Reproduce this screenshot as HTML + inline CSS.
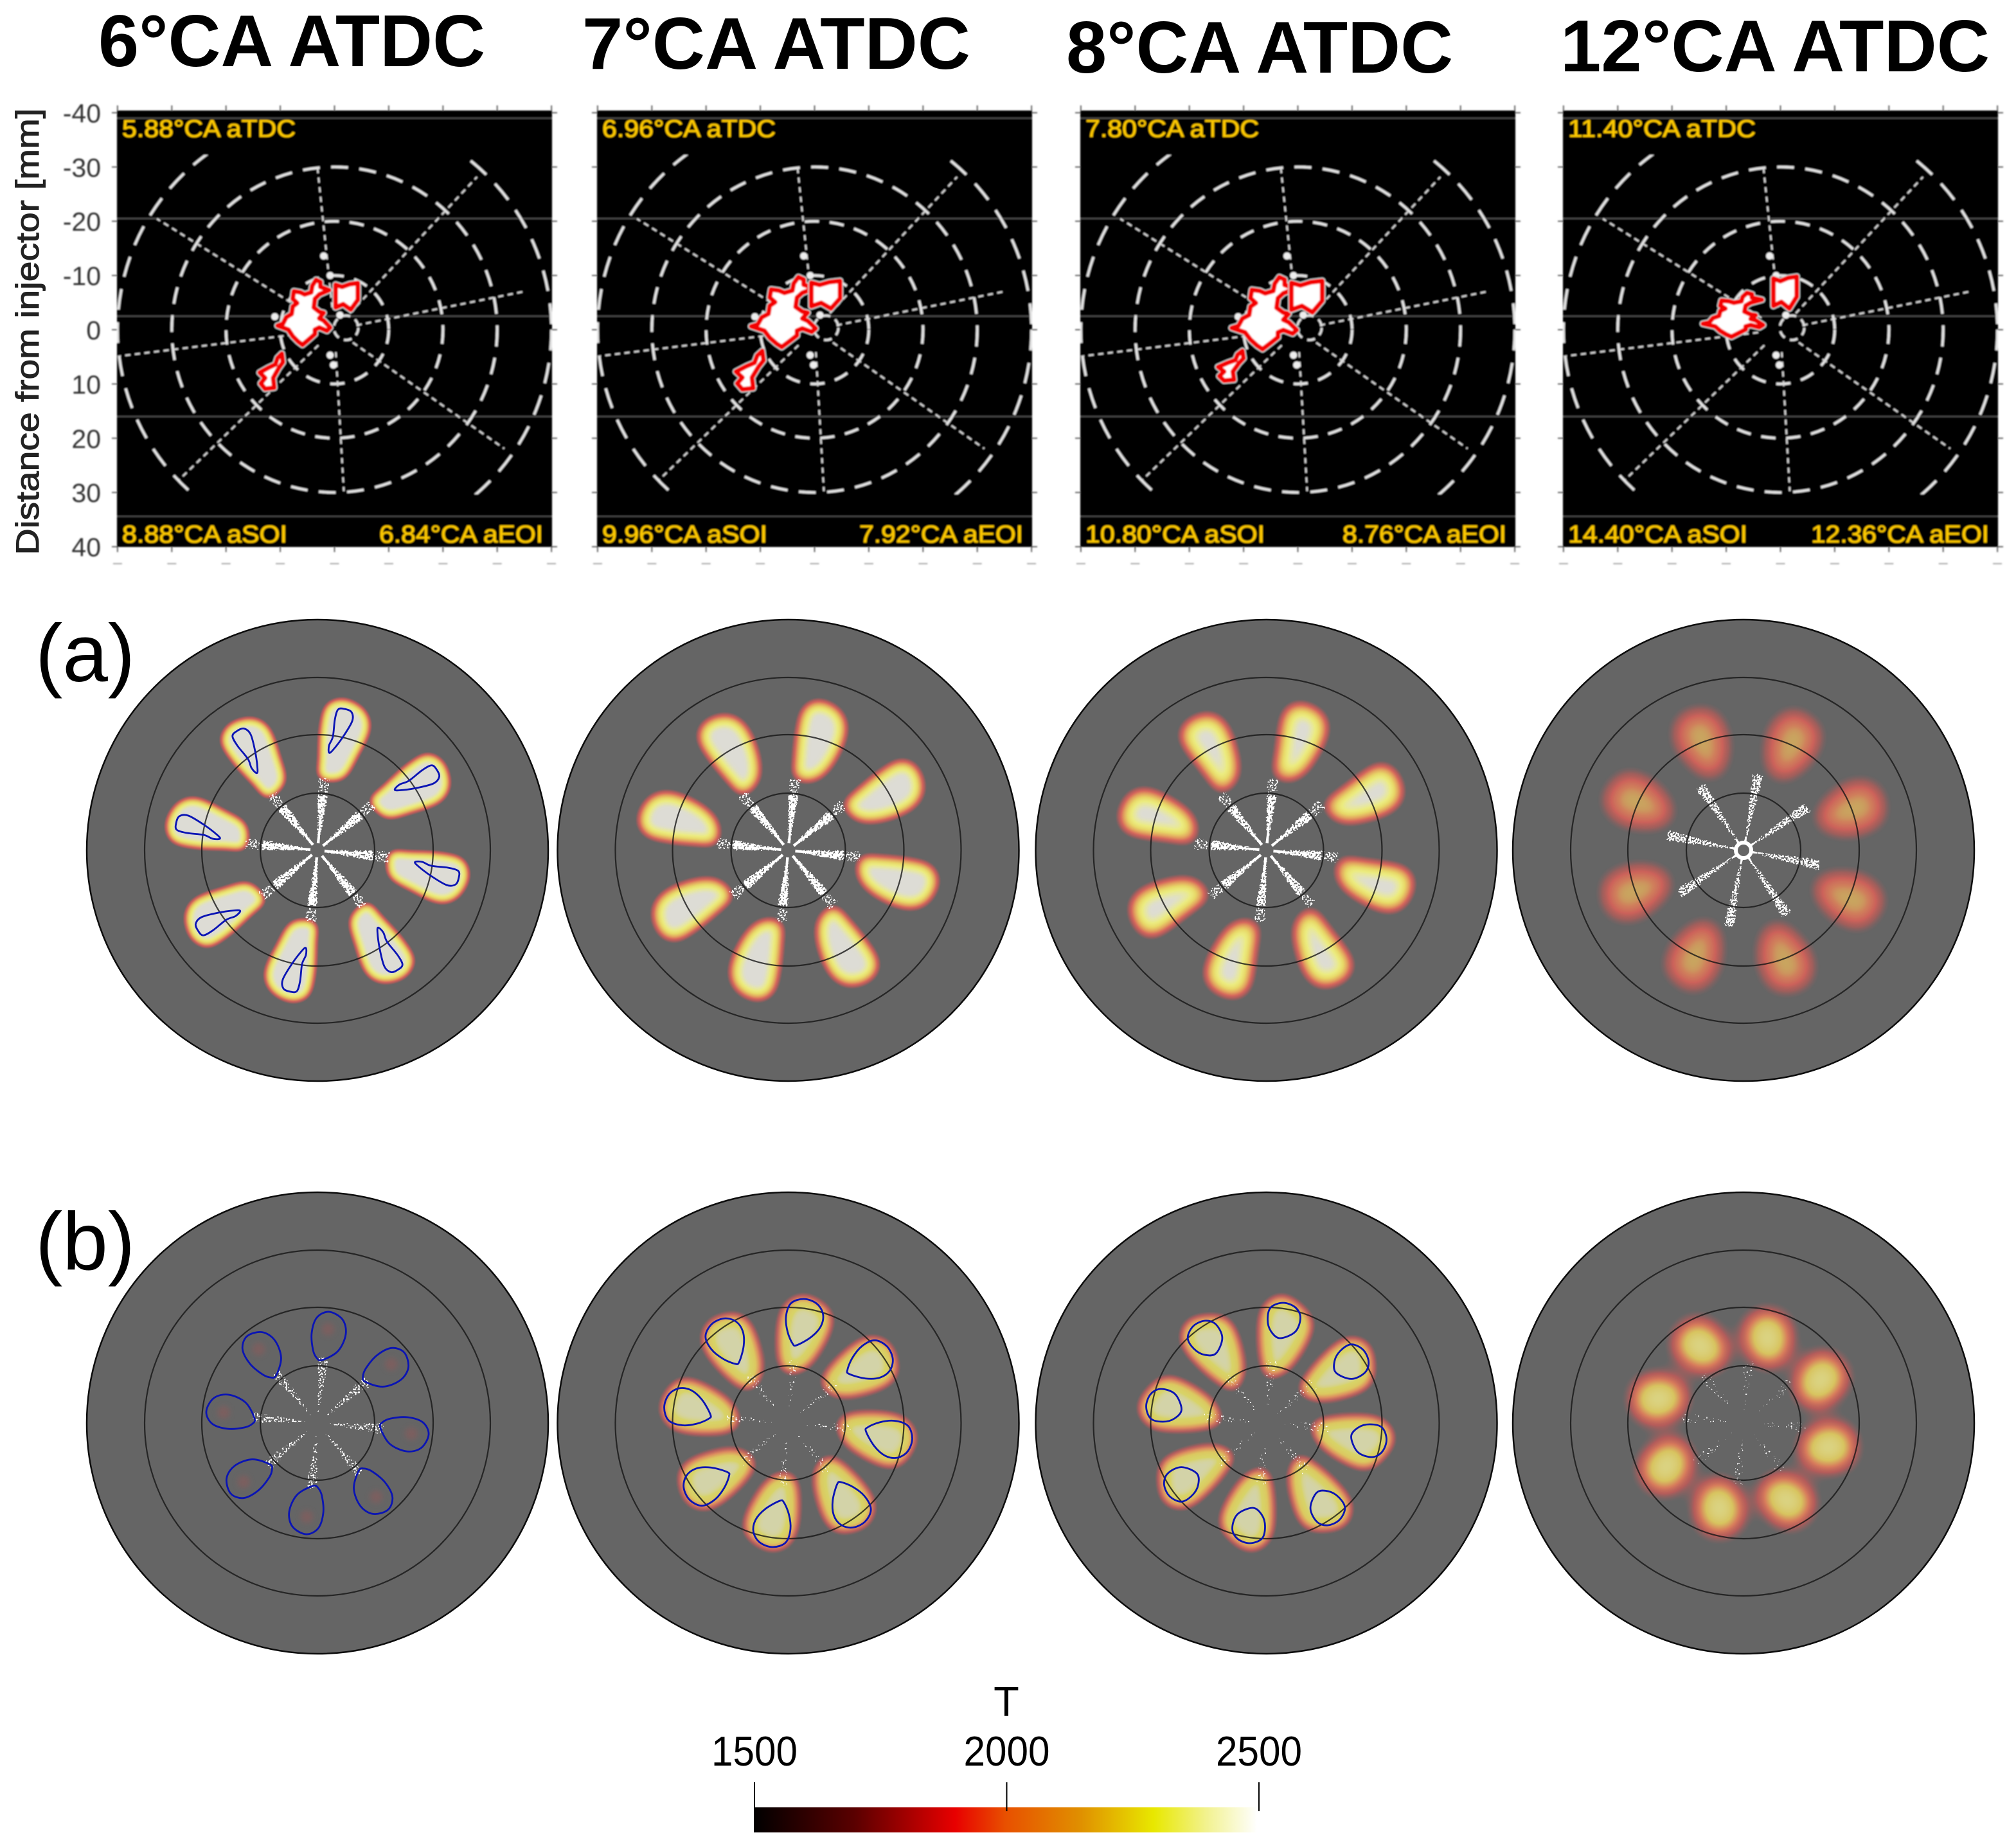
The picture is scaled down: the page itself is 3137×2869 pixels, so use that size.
<!DOCTYPE html>
<html lang="en">
<head>
<meta charset="utf-8">
<title>Flame imaging vs simulated temperature fields</title>
<style>
html,body{margin:0;padding:0;background:#fff;}
svg{display:block;font-family:"Liberation Sans",sans-serif;}
</style>
</head>
<body>
<svg id="figure" xmlns="http://www.w3.org/2000/svg" width="3137" height="2869" viewBox="0 0 3137 2869">
  <defs id="defs"></defs>
  <rect x="0" y="0" width="3137" height="2869" fill="#ffffff"/>
  <text x="153" y="103" font-size="114" font-weight="700" textLength="602" lengthAdjust="spacingAndGlyphs">6°CA ATDC</text>
  <text x="906" y="107" font-size="114" font-weight="700" textLength="604" lengthAdjust="spacingAndGlyphs">7°CA ATDC</text>
  <text x="1659" y="113" font-size="114" font-weight="700" textLength="602" lengthAdjust="spacingAndGlyphs">8°CA ATDC</text>
  <text x="2428" y="111" font-size="114" font-weight="700" textLength="668" lengthAdjust="spacingAndGlyphs">12°CA ATDC</text>
  <text transform="translate(60,516) rotate(-90)" text-anchor="middle" font-size="50" fill="#222" stroke="#222" stroke-width="1" textLength="695" lengthAdjust="spacingAndGlyphs">Distance from injector [mm]</text>
  <text x="55" y="1060" font-size="127" fill="#000">(a)</text>
  <text x="55" y="1975" font-size="127" fill="#000">(b)</text>
  <g id="panels"></g>
  <g id="discs"></g>
  <g id="colorbar"></g>
</svg>
<script>
// ---------- experimental panel data ----------
const yTickLabels = [-40, -30, -20, -10, 0, 10, 20, 30, 40];
const xTickMm = [-40, -30, -20, -10, 0, 10, 20, 30, 40];
const ringRadiiMm = [10, 20, 30, 40];
const spokeAngleDeg = [354, 43, 78.6, 125, 176.7, 226, 263, 302];
const spokeLengthMm = [30.4, 38.5, 35.4, 38.2, 29.8, 39.8, 39.8, 38.6];
const bandLineMm = [-39, -20.5, -2.5, 16, 34.4];
const tdcLabels = ['5.88°CA aTDC', '6.96°CA aTDC', '7.80°CA aTDC', '11.40°CA aTDC'];
const soiLabels = ['8.88°CA aSOI', '9.96°CA aSOI', '10.80°CA aSOI', '14.40°CA aSOI'];
const eoiLabels = ['6.84°CA aEOI', '7.92°CA aEOI', '8.76°CA aEOI', '12.36°CA aEOI'];
const flameMain = [[-10.5,-.75],[-9.5,-1.1],[-8.9,-2.3],[-7.9,-2.9],[-7.7,-4.3],[-6.9,-4.9],[-7.7,-5.7],[-7.5,-7.1],[-6.3,-6.9],[-5.5,-6.5],[-4.3,-6.9],[-4.1,-8.1],[-3.4,-9.2],[-2.6,-8.8],[-2.6,-7.9],[-1,-7.3],[-2.8,-6.5],[-3.6,-5.7],[-3.8,-4.1],[-2.8,-3.3],[-2,-3.1],[-2.8,-2.1],[-2,-1.7],[-.8,-.4],[-1.4,.2],[-2.8,-.4],[-3.6,0],[-3.6,.8],[-4.5,1.6],[-5.9,2.8],[-6.7,2.2],[-7.7,1.2],[-8.5,0]];
const flameSecond = [[.2,-8.3],[1.4,-7.9],[2.8,-8.4],[4.3,-8.6],[4.3,-5.5],[3,-3.7],[1.6,-4.7],[.2,-4.1]];
const flameThird = [[-9.7,4.4],[-10.5,5.2],[-10.9,6.4],[-12.2,7],[-13.8,7.9],[-12.8,8.9],[-13.6,9.9],[-12.8,10.9],[-11.1,10.7],[-11.3,8.9],[-10.3,7.1],[-9.5,6]];
const flameMainExtent = [[-10.5,-.8,-9.2,2.8],[-11.7,.2,-9.7,3.2],[-12.2,-.2,-9.7,3.6],[-14.3,-3.2,-6.8,1.3]];
const flameSecondExtent = [[.2,4.3,-8.6,-3.7],[-.6,4.7,-9,-3.9],[-1.2,4.5,-9,-3.2],[-1.3,3,-9.8,-3.9]];
const flameThirdExtent = [[-13.8,-9.5,4.4,10.9],[-14.5,-9.4,3.9,11],[-14.7,-10,3.9,9.4],null];
const speckMm = [[-2,-13.6],[-.8,-10],[-11,-2.4],[1,-2.7],[-.8,4.7],[-.2,6.5]];

// ---------- simulation data ----------
const simRingRadii = [359, 269, 180, 89];
const plumeA1 = [[3,-112],[40,-111],[63,-146],[82,-189],[73,-219],[42,-236],[14,-227],[4,-193],[1.5,-146]];
const plumeA2 = [[10,-111],[44,-109],[72,-137],[91,-184],[82,-217],[49,-234],[23,-222],[13,-184],[9,-142]];
const plumeA3 = [[11,-113],[42,-109],[66,-127],[94,-179],[90,-212],[54,-230],[28,-219],[19,-175],[14,-137]];
const plumeA4 = [[39,-154],[48,-194],[78,-214],[111,-194],[116,-172],[97,-136],[63,-114],[44,-123]];
const plumeB2 = [[-11,-87],[9,-78],[36,-94],[64,-142],[64,-175],[26,-198],[-6,-182],[-16,-137]];
const plumeB3 = [[-2,-75],[14,-73],[38,-88],[66,-133],[68,-166],[28,-198],[-5,-180],[-11,-128]];
const plumeB4 = [[8,-157],[32,-171],[63,-161],[70,-124],[56,-95],[27,-95],[8,-114],[4,-138]];
const outlineA1 = [[18,-152],[24,-156],[40,-177],[54,-201],[53,-215],[42,-220],[32,-219],[27,-203],[24,-177],[18,-163]];
const outlineB1 = [[7.5,-98],[32,-112],[44,-138],[39,-161],[18,-173],[-1,-164],[-9,-140],[-7,-114],[-1,-101]];
const outlineB2 = [[13,-121],[36,-134],[51,-151],[54,-170],[44,-186],[24,-193],[4,-186],[-3.5,-165],[-1,-142],[6.5,-124]];
const outlineB3 = [[21,-132],[45,-142],[53,-164],[45,-180],[26,-187],[7,-180],[2,-161],[7,-143]];
const rampBright = [[.30,'#b85858',0],[.44,'#c45c5a',.8],[.54,'#d6685c',1],[.66,'#e2a05e',1],[.8,'#e8d868',1],[.9,'#ecec80',1],[.96,'#e6e6ac',1],[.995,'#dddcd6',1],[1,'#dddcd6',1]];
const rampDim = [[.12,'#a06060',0],[.35,'#b85c58',.7],[.6,'#d2625a',.95],[.85,'#d0805c',1],[1,'#c9a860',1]];
const rampMixed = [[.25,'#b85858',0],[.42,'#c85c5c',.8],[.6,'#dc8a60',1],[.8,'#dcc860',1],[.95,'#d8d468',1],[1,'#d4d4a8',1]];
const rampLate = [[.1,'#a86060',0],[.3,'#c85a58',.8],[.5,'#d87c5c',1],[.72,'#d8c460',1],[1,'#dcd88c',1]];

const simNames = ['a-6ca','a-7ca','a-8ca','a-12ca','b-6ca','b-7ca','b-8ca','b-12ca'];
const simPlumes = [plumeA1, plumeA2, plumeA3, plumeA4, null, plumeB2, plumeB3, plumeB4];
const simOutlines = [outlineA1, null, null, null, outlineB1, outlineB2, outlineB3, null];
const simBlur = [7.5, 11, 14, 15, 0, 11, 11, 17];
const simRamps = [rampBright, rampBright, rampBright, rampDim, null, rampMixed, rampMixed, rampLate];
const simSprayAngle = [5.5, 5.5, 5.5, 11, 5, 5, 5, 5];
const simSprayThreshold = [.38, .38, .4, .46, .55, .63, .65, .68];
const simSprayLength = [88, 88, 88, 122, 105, 100, 100, 100];
const simSprayWidth = [18, 18, 18, 20, 22, 22, 26, 26];
const simSpraySparseLength = [114, 114, 114, 0, 0, 0, 0, 0];
const simSpraySolid = [42, 42, 42, 22, 0, 0, 0, 0];

// ---------- colorbar data ----------
const colorbarTicks = ['1500', '2000', '2500'];
const colorbarTitle = 'T';
const colorbarStops = [[0,'#000000'],[.2,'#5a0000'],[.4,'#e80000'],[.5,'#e85000'],[.65,'#e09000'],[.795,'#e8e800'],[.9,'#f2f290'],[1,'#ffffff']];

// ---------- helpers ----------
const NS = 'http://www.w3.org/2000/svg';
const defs = document.getElementById('defs');
function mk(tag, attrs, parent) {
  const el = document.createElementNS(NS, tag);
  for (const k in attrs) el.setAttribute(k, attrs[k]);
  if (parent) parent.appendChild(el);
  return el;
}
function smoothClosed(pts) {
  const n = pts.length;
  let d = 'M' + pts[0][0].toFixed(1) + ' ' + pts[0][1].toFixed(1);
  for (let i = 0; i < n; i++) {
    const p0 = pts[(i - 1 + n) % n], p1 = pts[i], p2 = pts[(i + 1) % n], p3 = pts[(i + 2) % n];
    const c1x = p1[0] + (p2[0] - p0[0]) / 6, c1y = p1[1] + (p2[1] - p0[1]) / 6;
    const c2x = p2[0] - (p3[0] - p1[0]) / 6, c2y = p2[1] - (p3[1] - p1[1]) / 6;
    d += 'C' + c1x.toFixed(1) + ' ' + c1y.toFixed(1) + ' ' + c2x.toFixed(1) + ' ' + c2y.toFixed(1) + ' ' + p2[0].toFixed(1) + ' ' + p2[1].toFixed(1);
  }
  return d + 'Z';
}
function polyPath(pts) {
  return 'M' + pts.map(p => p[0].toFixed(1) + ' ' + p[1].toFixed(1)).join('L') + 'Z';
}
function hexRgb(h) {
  return [parseInt(h.slice(1,3),16)/255, parseInt(h.slice(3,5),16)/255, parseInt(h.slice(5,7),16)/255];
}
function sampleRamp(ramp, t) {
  if (t <= ramp[0][0]) { const c = hexRgb(ramp[0][1]); return [c[0],c[1],c[2],ramp[0][2]]; }
  for (let i = 1; i < ramp.length; i++) {
    if (t <= ramp[i][0]) {
      const f = (t - ramp[i-1][0]) / (ramp[i][0] - ramp[i-1][0]);
      const a = hexRgb(ramp[i-1][1]), b = hexRgb(ramp[i][1]);
      return [a[0]+(b[0]-a[0])*f, a[1]+(b[1]-a[1])*f, a[2]+(b[2]-a[2])*f, ramp[i-1][2]+(ramp[i][2]-ramp[i-1][2])*f];
    }
  }
  const c = hexRgb(ramp[ramp.length-1][1]);
  return [c[0],c[1],c[2],ramp[ramp.length-1][2]];
}
function rampFilter(id, sigma, ramp, region) {
  const f = mk('filter', Object.assign({id:id, filterUnits:'userSpaceOnUse', 'color-interpolation-filters':'sRGB'}, region), defs);
  mk('feGaussianBlur', {in:'SourceAlpha', stdDeviation:sigma, result:'b'}, f);
  mk('feColorMatrix', {in:'b', type:'matrix', values:'0 0 0 1 0 0 0 0 1 0 0 0 0 1 0 0 0 0 1 0', result:'m'}, f);
  const ct = mk('feComponentTransfer', {in:'m'}, f);
  const N = 100, tables = [[],[],[],[]];
  for (let i = 0; i <= N; i++) {
    const c = sampleRamp(ramp, i / N);
    for (let k = 0; k < 4; k++) tables[k].push(c[k].toFixed(3));
  }
  ['feFuncR','feFuncG','feFuncB','feFuncA'].forEach((n, k) => mk(n, {type:'table', tableValues:tables[k].join(' ')}, ct));
}
function noiseFilter(id, thr, seed, region) {
  const f = mk('filter', Object.assign({id:id, filterUnits:'userSpaceOnUse', 'color-interpolation-filters':'sRGB'}, region), defs);
  mk('feGaussianBlur', {in:'SourceAlpha', stdDeviation:'2', result:'b'}, f);
  mk('feTurbulence', {type:'fractalNoise', baseFrequency:'.38', numOctaves:'1', seed:seed, result:'n'}, f);
  mk('feComposite', {in:'n', in2:'b', operator:'arithmetic', k1:'1', k2:'0', k3:'0', k4:'0', result:'p'}, f);
  mk('feColorMatrix', {in:'p', type:'matrix', values:'0 0 0 0 1 0 0 0 0 1 0 0 0 0 1 0 0 0 1 0', result:'a'}, f);
  const ct = mk('feComponentTransfer', {in:'a'}, f);
  const tv = [];
  for (let i = 0; i < 50; i++) tv.push(i / 50 < thr ? 0 : 1);
  mk('feFuncA', {type:'discrete', tableValues:tv.join(' ')}, ct);
}

// ---------- experimental panels ----------
const panelsRoot = document.getElementById('panels');
const panelLeft = [182, 929, 1681, 2432];
const PANEL_W = 677, PANEL_TOP = 172, PANEL_BOTTOM = 851, Y0 = 513, PX_MM = 8.44;
mk('filter', {id:'soft', filterUnits:'userSpaceOnUse', x:0, y:130, width:3137, height:780}, defs).appendChild(mk('feGaussianBlur', {stdDeviation:'1.1'}));

function fitShape(shape, ext) {
  const xs = shape.map(p => p[0]), ys = shape.map(p => p[1]);
  const x0 = Math.min(...xs), x1 = Math.max(...xs), y0 = Math.min(...ys), y1 = Math.max(...ys);
  return shape.map(p => [ext[0] + (p[0]-x0)/(x1-x0)*(ext[1]-ext[0]), ext[2] + (p[1]-y0)/(y1-y0)*(ext[3]-ext[2])]);
}

panelLeft.forEach((left, i) => {
  const cx = left + PANEL_W / 2;
  const sx = mm => cx + mm * PX_MM;
  const sy = mm => Y0 + mm * PX_MM;
  const g = mk('g', {filter:'url(#soft)'}, panelsRoot);
  
  

  const bg = mk('rect', {x:left, y:PANEL_TOP, width:PANEL_W, height:PANEL_BOTTOM-PANEL_TOP, fill:'#000'}, g);
  
  

  bandLineMm.forEach(mm => {
    const line = mk('line', {x1:left, x2:left+PANEL_W, y1:sy(mm), y2:sy(mm), stroke:'#4a4a4a', 'stroke-width':2.2}, g);
    
    
  });

  xTickMm.forEach(mm => {
    const x = sx(mm);
    const top = mk('line', {x1:x, x2:x, y1:PANEL_TOP-8, y2:PANEL_TOP, stroke:'#666', 'stroke-width':2}, g);
    
    
    const bot = mk('line', {x1:x, x2:x, y1:PANEL_BOTTOM, y2:PANEL_BOTTOM+8, stroke:'#666', 'stroke-width':2}, g);
    
    
    const dash = mk('line', {x1:x-7, x2:x+7, y1:877, y2:877, stroke:'#aaa', 'stroke-width':2}, g);
    
    
  });

  yTickLabels.forEach(v => {
    const y = sy(v);
    const l = mk('line', {x1:left-8, x2:left, y1:y, y2:y, stroke:'#666', 'stroke-width':2}, g);
    
    
    const r = mk('line', {x1:left+PANEL_W, x2:left+PANEL_W+8, y1:y, y2:y, stroke:'#666', 'stroke-width':2}, g);
    
    
    if (i === 0) {
      const t = mk('text', {x:157, y:y+15, 'text-anchor':'end', 'font-size':41, fill:'#333'}, g);
      t.textContent = String(v);
      
      
    }
  });

  const clip = mk('clipPath', {id:'ringclip' + i}, defs);
  mk('rect', {x:left, y:241, width:PANEL_W, height:528}, clip);
  ringRadiiMm.forEach(mm => {
    const c = mk('circle', {cx:cx, cy:Y0, r:mm*PX_MM, fill:'none', stroke:'#e4e4e4', 'stroke-width':4, 'stroke-dasharray': mm === 40 ? '32 20' : (mm === 30 ? '26 18' : '22 17')}, g);
    if (mm === 40) c.setAttribute('clip-path', 'url(#ringclip' + i + ')');
    
    
  });

  spokeAngleDeg.forEach((deg, k) => {
    const rad = deg * Math.PI / 180;
    const len = spokeLengthMm[k] * PX_MM;
    const sp = mk('line', {x1:cx + Math.sin(rad)*35, y1:Y0 - Math.cos(rad)*35, x2:cx + Math.sin(rad)*len, y2:Y0 - Math.cos(rad)*len, stroke:'#d8d8d8', 'stroke-width':2.6, 'stroke-dasharray':'8 7'}, g);
    
    
  });

  const nozzle = mk('circle', {cx:cx+18, cy:Y0-3, r:19, fill:'none', stroke:'#dedede', 'stroke-width':3.5, 'stroke-dasharray':'12 9'}, g);
  
  

  speckMm.forEach(p => {
    const s = mk('circle', {cx:sx(p[0]), cy:sy(p[1]), r:5.5, fill:'#eee'}, g);
    
    
  });

  [[flameMain, flameMainExtent[i]], [flameSecond, flameSecondExtent[i]], [flameThird, flameThirdExtent[i]]].forEach(pair => {
    if (!pair[1]) return;
    const pts = fitShape(pair[0], pair[1]).map(p => [sx(p[0]), sy(p[1])]);
    const halo = mk('path', {d:polyPath(pts), fill:'none', stroke:'#cdeeee', 'stroke-width':10, 'stroke-linejoin':'round'}, g);
    
    
    const f = mk('path', {d:polyPath(pts), fill:'#fff', stroke:'#f40000', 'stroke-width':7.5, 'stroke-linejoin':'round'}, g);
    
    
  });

  const lenFor = (s, base) => (s.length >= 13 ? base + 22 : base);
  const tx1 = mk('text', {x:left+8, y:213, 'font-size':38, fill:'#fdc800', stroke:'#fdc800', 'stroke-width':.6, textLength:lenFor(tdcLabels[i],270), lengthAdjust:'spacingAndGlyphs'}, g);
  tx1.textContent = tdcLabels[i];
  
  
  const tx2 = mk('text', {x:left+8, y:844, 'font-size':38, fill:'#fdc800', stroke:'#fdc800', 'stroke-width':.6, textLength:lenFor(soiLabels[i],257), lengthAdjust:'spacingAndGlyphs'}, g);
  tx2.textContent = soiLabels[i];
  
  
  const eoiLen = lenFor(eoiLabels[i],255);
  const tx3 = mk('text', {x:left+PANEL_W-14-eoiLen, y:844, 'font-size':38, fill:'#fdc800', stroke:'#fdc800', 'stroke-width':.6, textLength:eoiLen, lengthAdjust:'spacingAndGlyphs'}, g);
  tx3.textContent = eoiLabels[i];
  
  
});

// ---------- simulation discs ----------
const discsRoot = document.getElementById('discs');
const discX = [494, 1226.5, 1970.5, 2713];
const discY = [1323, 2214];
const JETS = [0, 1, 2, 3, 4, 5, 6, 7];

simNames.forEach((name, idx) => {
  const cx = discX[idx % 4], cy = discY[idx < 4 ? 0 : 1];
  const region = {x:cx-370, y:cy-370, width:740, height:740};
  const g = mk('g', {}, discsRoot);
  
  

  const disc = mk('circle', {cx:cx, cy:cy, r:simRingRadii[0], fill:'#656565', stroke:'#0c0c0c', 'stroke-width':2.5}, g);
  
  

  if (simPlumes[idx]) {
    const fid = 'ramp' + idx;
    rampFilter(fid, simBlur[idx], simRamps[idx], region);
    const pg = mk('g', {filter:'url(#' + fid + ')'}, g);
    
    
    JETS.forEach(k => {
      const p = mk('path', {d:smoothClosed(simPlumes[idx]), fill:'#000', transform:'translate(' + cx + ',' + cy + ') rotate(' + (45*k) + ')'}, pg);
      
      
    });
  } else {
    mk('filter', {id:'spot' + idx, filterUnits:'userSpaceOnUse', x:region.x, y:region.y, width:740, height:740}, defs).appendChild(mk('feGaussianBlur', {stdDeviation:'4'}));
    const spots = mk('g', {filter:'url(#spot' + idx + ')'}, g);
    
    
    JETS.forEach(k => {
      const s = mk('circle', {cx:16.5, cy:-146, r:10, fill:'#7a5f5f', transform:'translate(' + cx + ',' + cy + ') rotate(' + (45*k) + ')'}, spots);
      
      
    });
  }

  // spray parcels: speckled wedges whose density falls off toward the edges
  const ang = simSprayAngle[idx];
  const wedge = (r0, r1, w0, w1, parent, k) => {
    const pts = [[-w0/2,-r0],[w0/2,-r0],[w1/2,-r1],[-w1/2,-r1]];
    return mk('path', {d:polyPath(pts), fill:'#fff', transform:'translate(' + cx + ',' + cy + ') rotate(' + (ang + 45*k) + ')'}, parent);
  };
  noiseFilter('spk' + idx, simSprayThreshold[idx], idx + 3, region);
  const sg = mk('g', {filter:'url(#spk' + idx + ')'}, g);
  
  
  JETS.forEach(k => {
    const w = wedge(12, simSprayLength[idx], 5, simSprayWidth[idx], sg, k);
    
    
  });
  if (simSpraySparseLength[idx]) {
    noiseFilter('spa' + idx, .54, idx + 11, region);
    const sa = mk('g', {filter:'url(#spa' + idx + ')'}, g);
    
    
    JETS.forEach(k => {
      const w = wedge(simSprayLength[idx], simSpraySparseLength[idx], simSprayWidth[idx], 22, sa, k);
      
      
    });
  }
  if (simSpraySolid[idx]) {
    JETS.forEach(k => {
      const w = wedge(11, simSpraySolid[idx], 4.5, 2, g, k);
      
      
    });
  }
  if (idx === 3) {
    const hole = mk('circle', {cx:cx, cy:cy, r:12, fill:'#656565', stroke:'#fff', 'stroke-width':6}, g);
    
    
  }

  simRingRadii.slice(1).forEach(r => {
    const c = mk('circle', {cx:cx, cy:cy, r:r, fill:'none', stroke:'#151515', 'stroke-width':2.2, opacity:.8}, g);
    
    
  });

  if (simOutlines[idx]) {
    JETS.forEach(k => {
      const o = mk('path', {d:smoothClosed(simOutlines[idx]), fill:'none', stroke:'#0a14b4', 'stroke-width':2.8, transform:'translate(' + cx + ',' + cy + ') rotate(' + (45*k) + ')'}, g);
      
      
    });
  }
});

// ---------- colorbar ----------
const cb = document.getElementById('colorbar');
const grad = mk('linearGradient', {id:'tempRamp', x1:0, x2:1, y1:0, y2:0}, defs);
colorbarStops.forEach(s => mk('stop', {offset:s[0], 'stop-color':s[1]}, grad));
const BAR_L = 1173, BAR_R = 1956, BAR_T = 2812, BAR_B = 2851;
const bar = mk('rect', {x:BAR_L, y:BAR_T, width:BAR_R-BAR_L, height:BAR_B-BAR_T, fill:'url(#tempRamp)'}, cb);


colorbarTicks.forEach((label, i) => {
  const x = BAR_L + 1 + i * 392.5;
  const tick = mk('line', {x1:x, x2:x, y1:2773, y2:2818, stroke:'#000', 'stroke-width':2}, cb);
  
  
  const t = mk('text', {x:x, y:2747, 'text-anchor':'middle', 'font-size':65, fill:'#000', textLength:134, lengthAdjust:'spacingAndGlyphs'}, cb);
  t.textContent = label;
  
  
});
const title = mk('text', {x:1566, y:2670, 'text-anchor':'middle', 'font-size':65, fill:'#000'}, cb);
title.textContent = colorbarTitle;


</script>
</body>
</html>
